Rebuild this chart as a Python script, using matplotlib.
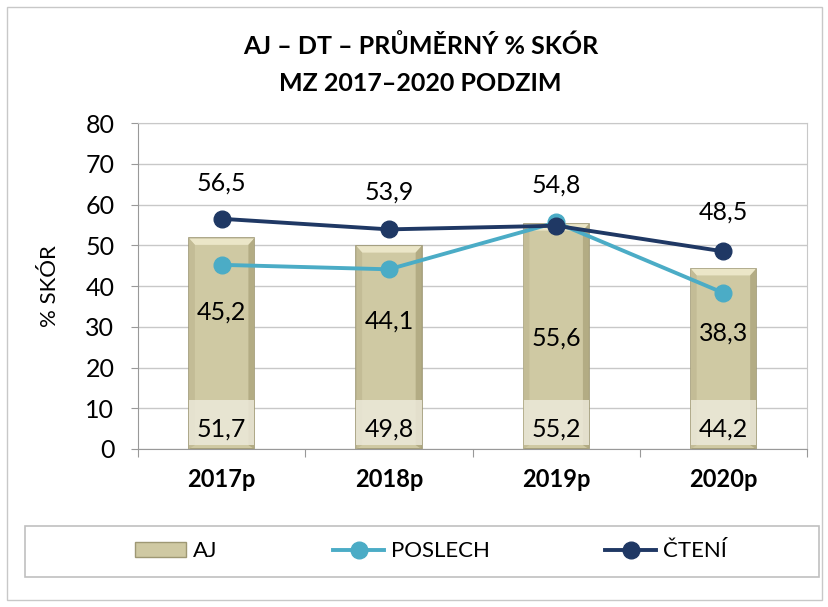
import matplotlib.pyplot as plt
from matplotlib.patches import Rectangle, Polygon, Patch
from matplotlib.lines import Line2D
import numpy as np

plt.rcParams['font.family'] = ['Lato', 'DejaVu Sans']

years = ["2017p", "2018p", "2019p", "2020p"]
aj = [51.7, 49.8, 55.2, 44.2]
poslech = [45.2, 44.1, 55.6, 38.3]
cteni = [56.5, 53.9, 54.8, 48.5]

# posun popisků (v bodech) - ručně podle předlohy
poslech_off = [-34, -37, -83, -29]
cteni_off = [26, 27, 29, 28]

bar_col = "#cfc9a3"
pos_col = "#4bacc6"
cte_col = "#1f3864"

fig = plt.figure(figsize=(8.29, 6.07), dpi=100)
ax = fig.add_axes([0.1665, 0.2603, 0.807, 0.537])

x = np.arange(len(years))
w = 0.39

ax.bar(x, aj, width=w, color=bar_col, edgecolor="#9e9874", linewidth=1.2, zorder=2)
# zkosení hran sloupců (efekt "bevel")
dx, dy = 0.035, 1.6
for i, h in enumerate(aj):
    l, r = x[i] - w / 2, x[i] + w / 2
    ax.add_patch(Polygon([(l, h), (r, h), (r - dx, h - dy), (l + dx, h - dy)],
                         closed=True, color="#ebe6c8", lw=0, zorder=2.2))
    ax.add_patch(Polygon([(l, 0), (l + dx, dy * 0.6), (l + dx, h - dy), (l, h)],
                         closed=True, color="#c3bc96", lw=0, zorder=2.2))
    ax.add_patch(Polygon([(r, 0), (r - dx, dy * 0.6), (r - dx, h - dy), (r, h)],
                         closed=True, color="#b3ac84", lw=0, zorder=2.2))
# světlé pozadí popisků sloupců
ax.bar(x, 11, width=w, bottom=1.0, color="#ece9da", alpha=0.85, linewidth=0, zorder=2.5)
for i, v in enumerate(aj):
    ax.text(x[i], 5.0, f"{v:.1f}".replace(".", ","), ha="center", va="center",
            fontsize=18, zorder=5)

ax.plot(x, poslech, color=pos_col, lw=2.8, marker="o", ms=12, zorder=3)
ax.plot(x, cteni, color=cte_col, lw=2.8, marker="o", ms=12, zorder=4)

for i in range(len(years)):
    ax.annotate(f"{poslech[i]:.1f}".replace(".", ","), (x[i], poslech[i]),
                xytext=(0, poslech_off[i]), textcoords="offset points",
                ha="center", va="center", fontsize=18, zorder=5)
    ax.annotate(f"{cteni[i]:.1f}".replace(".", ","), (x[i], cteni[i]),
                xytext=(0, cteni_off[i]), textcoords="offset points",
                ha="center", va="center", fontsize=18, zorder=5)

ax.set_xlim(-0.5, len(years) - 0.5)
ax.set_ylim(0, 80)
ax.set_yticks(range(0, 81, 10))
ax.tick_params(axis="y", labelsize=18, length=5, color="#999999", pad=12)
ax.set_xticks(np.arange(-0.5, len(years), 1), minor=False)
ax.set_xticklabels([])
ax.set_xticks(x, minor=True)
ax.set_xticklabels(years, minor=True, fontsize=17, fontweight="bold")
ax.tick_params(axis="x", which="major", length=6, color="#999999")
ax.tick_params(axis="x", which="minor", length=0, pad=14)
ax.grid(axis="y", color="#c8c8c8", lw=1, zorder=0)
ax.set_axisbelow(True)
for s in ["top", "right"]:
    ax.spines[s].set_color("#c8c8c8")
for s in ["left", "bottom"]:
    ax.spines[s].set_color("#999999")
ax.set_ylabel("% SKÓR", fontsize=16, labelpad=18)

fig.text(0.507, 0.944, "AJ – DT – PRŮMĚRNÝ % SKÓR\nMZ 2017–2020 PODZIM",
         ha="center", va="top", fontsize=18, fontweight="bold", linespacing=1.75)

handles = [
    Patch(facecolor=bar_col, edgecolor="#9e9874", label="AJ"),
    Line2D([], [], color=pos_col, lw=2.8, marker="o", ms=12, label="POSLECH"),
    Line2D([], [], color=cte_col, lw=2.8, marker="o", ms=12, label="ČTENÍ"),
]
fig.legend(handles=handles, loc="center", ncol=3,
           bbox_to_anchor=(0.52, 0.0915), fontsize=16, frameon=False,
           handlelength=2.3, handletextpad=0.3, columnspacing=5.2)
# rámeček legendy
fig.patches.append(Rectangle((0.030, 0.050), 0.958, 0.083, transform=fig.transFigure,
                             fill=False, edgecolor="#c0c0c0", lw=1.2))
# rámeček grafu
fig.patches.append(Rectangle((0.008, 0.011), 0.984, 0.978, transform=fig.transFigure,
                             fill=False, edgecolor="#c8c8c8", lw=1))

plt.savefig("out.png", dpi=100)
